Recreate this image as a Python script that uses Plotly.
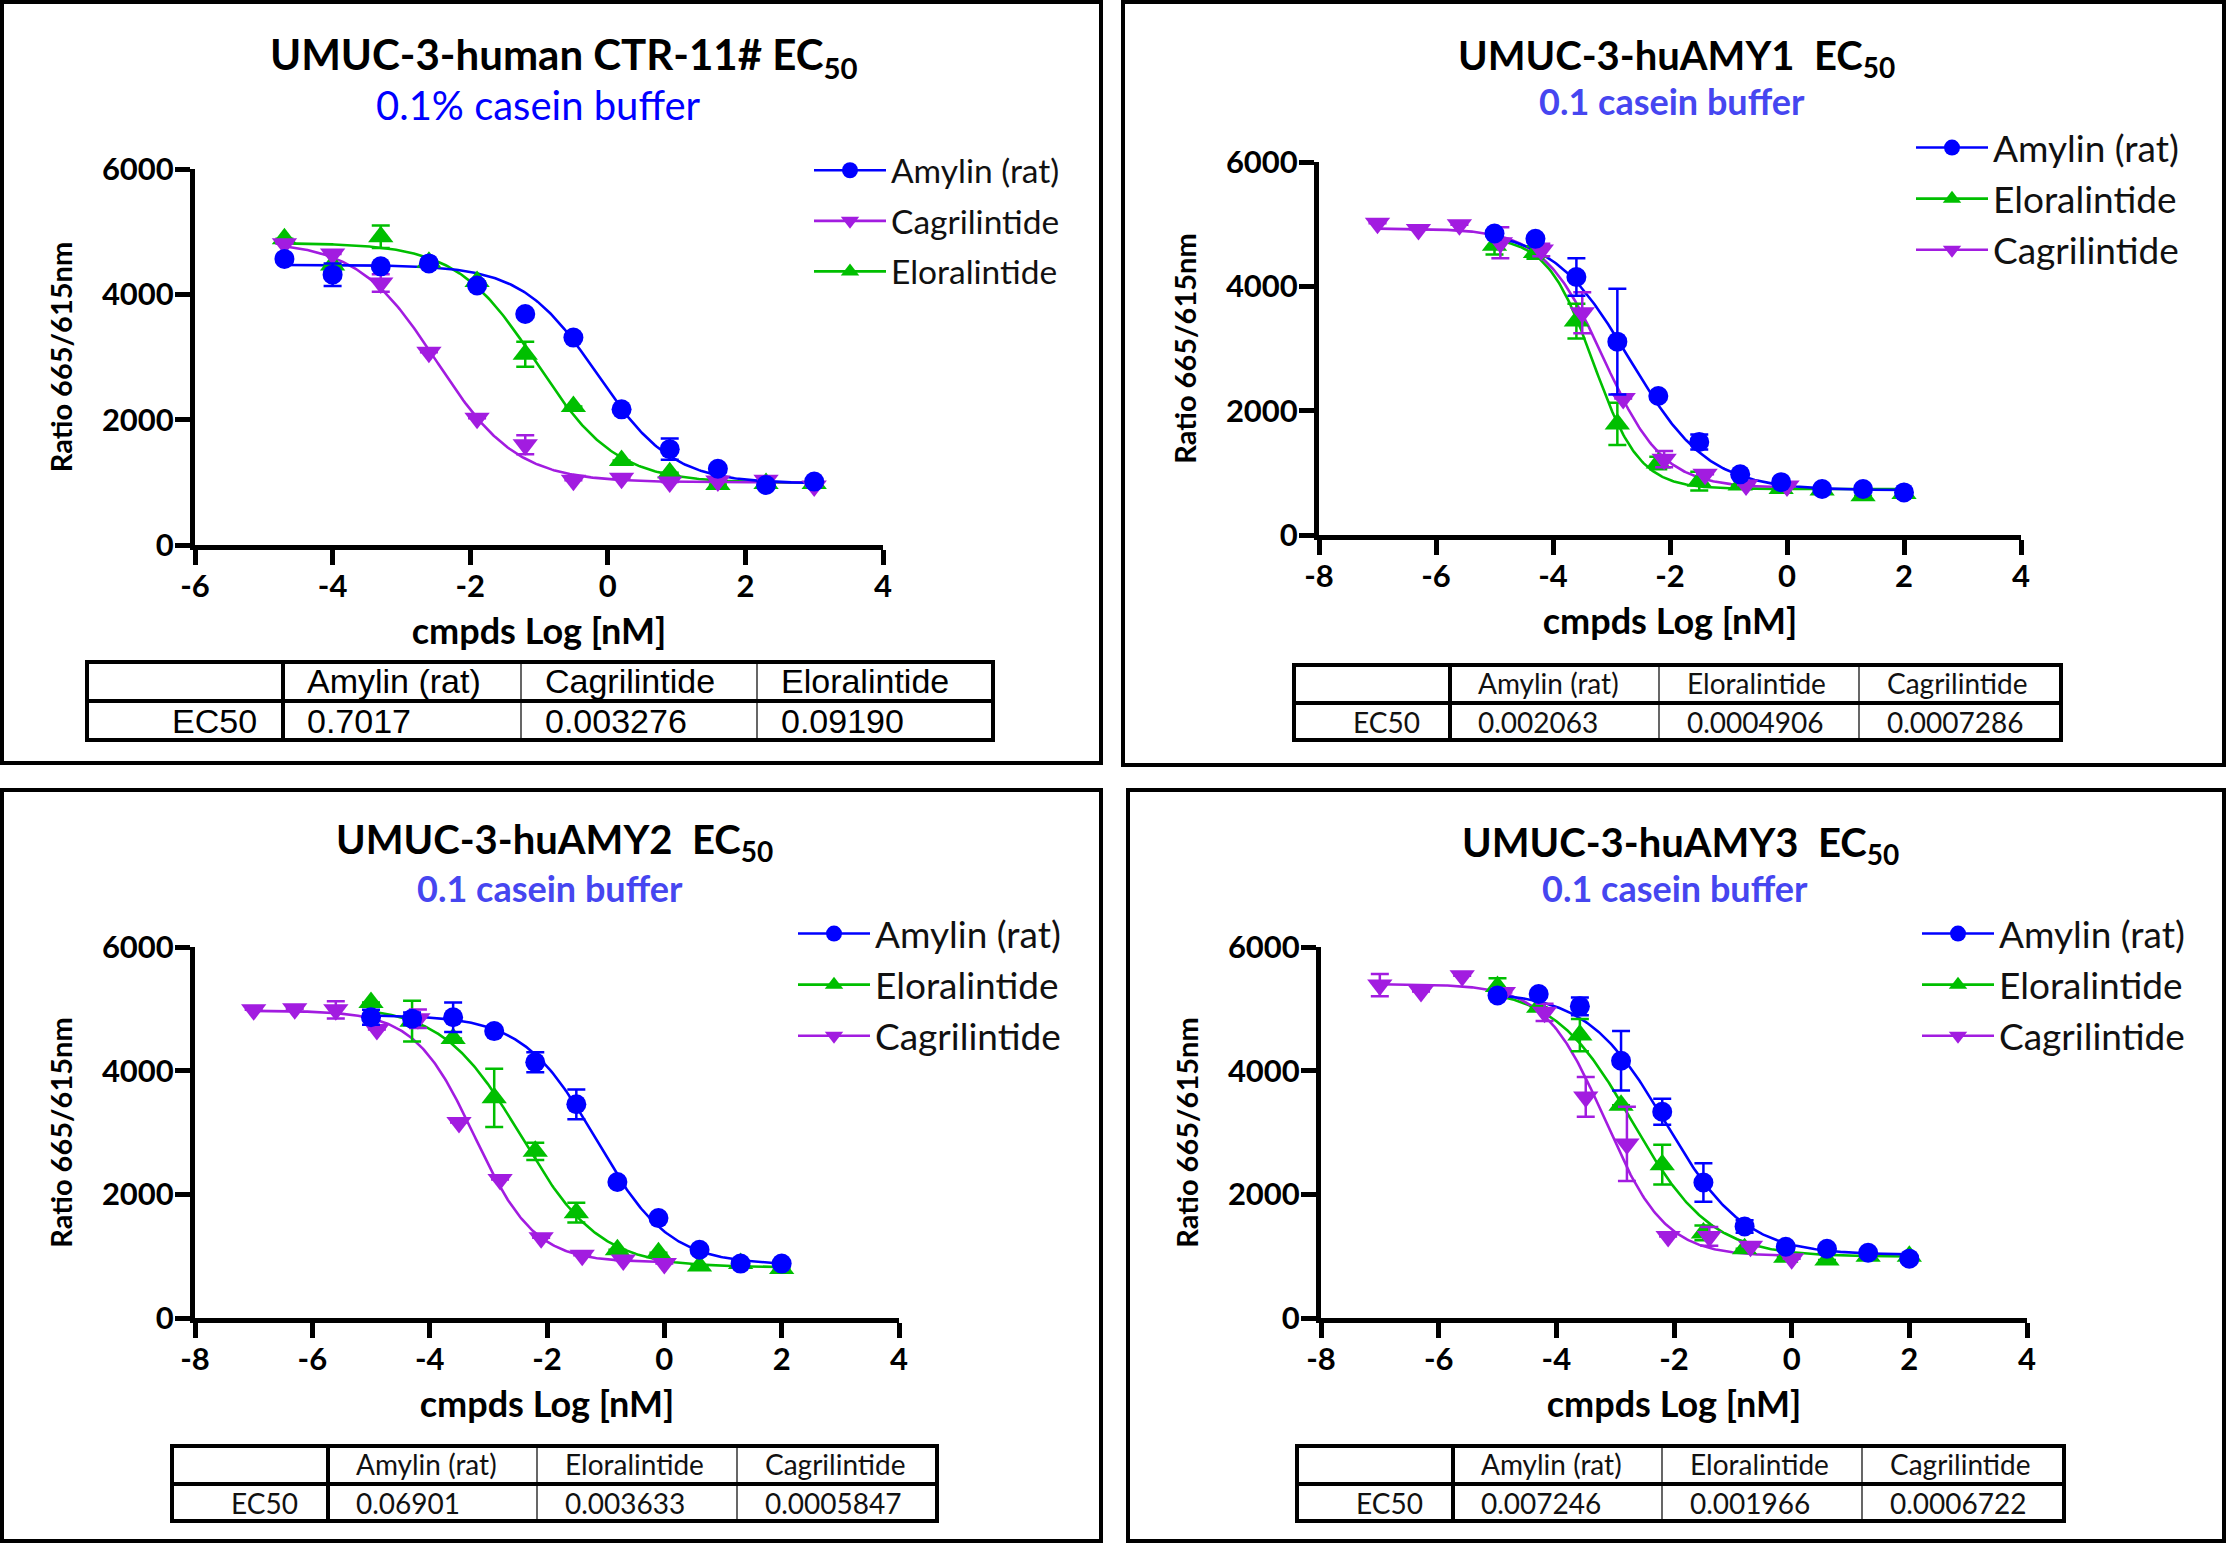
import numpy as np
import plotly.graph_objects as go

W, H = 2227, 1544

# ---------------- data ----------------
# Panel 1: UMUC-3-human CTR-11#
x_ctr = [-4.7, -4.0, -3.3, -2.6, -1.9, -1.2, -0.5, 0.2, 0.9, 1.6, 2.3, 3.0]
ctr_amylin = [4565, 4314, 4447, 4494, 4141, 3686, 3310, 2165, 1529, 1216, 957, 1012]
ctr_amylin_err = [0, 180, 0, 0, 0, 0, 0, 0, 170, 0, 0, 0]
ctr_cagri = [4808, 4643, 4180, 3075, 2024, 1600, 1035, 1067, 1004, 1020, 1035, 941]
ctr_cagri_err = [0, 0, 140, 0, 0, 150, 0, 0, 0, 0, 0, 0]
ctr_elora = [4886, 4470, 4918, 4510, 4204, 3043, 2212, 1349, 1153, 965, 980, 980]
ctr_elora_err = [0, 0, 180, 0, 0, 200, 0, 0, 0, 0, 0, 0]

# shared dose grids for the huAMY panels
x_amy_elo = [-5.0, -4.3, -3.6, -2.9, -2.2, -1.5, -0.8, -0.1, 0.6, 1.3, 2.0]
x_cagri = [-7.0, -6.3, -5.6, -4.9, -4.2, -3.5, -2.8, -2.1, -1.4, -0.7, 0.0]

# Panel 2: UMUC-3-huAMY1
amy1_amylin = [4850, 4764, 4150, 3110, 2236, 1496, 976, 850, 740, 740, 685]
amy1_amylin_err = [0, 0, 300, 850, 0, 120, 0, 0, 0, 0, 0]
amy1_elora = [4661, 4543, 3441, 1787, 1157, 866, 803, 748, 724, 630, 669]
amy1_elora_err = [150, 100, 280, 340, 100, 150, 0, 0, 0, 0, 0]
amy1_cagri = [5016, 4913, 4992, 4700, 4583, 3575, 2197, 1220, 976, 803, 787]
amy1_cagri_err = [0, 0, 0, 250, 100, 330, 0, 130, 0, 0, 0]

# Panel 3: UMUC-3-huAMY2
amy2_amylin = [4864, 4840, 4864, 4640, 4136, 3456, 2200, 1616, 1104, 880, 880]
amy2_amylin_err = [120, 100, 240, 0, 160, 240, 0, 0, 0, 0, 0]
amy2_elora = [5104, 4800, 4520, 3560, 2696, 1704, 1104, 1056, 840, 880, 800]
amy2_elora_err = [0, 330, 0, 470, 140, 160, 0, 0, 0, 0, 0]
amy2_cagri = [4984, 5000, 4984, 4664, 4840, 3160, 2240, 1296, 1016, 936, 880]
amy2_cagri_err = [0, 0, 140, 0, 150, 0, 0, 0, 0, 0, 0]

# Panel 4: UMUC-3-huAMY3
amy3_amylin = [5216, 5240, 5040, 4160, 3336, 2192, 1480, 1152, 1120, 1056, 960]
amy3_amylin_err = [0, 0, 145, 480, 210, 310, 100, 0, 0, 0, 0]
amy3_elora = [5360, 5024, 4576, 3440, 2480, 1376, 1120, 984, 936, 1000, 1000]
amy3_elora_err = [135, 0, 260, 0, 320, 120, 0, 0, 0, 0, 0]
amy3_cagri = [5384, 5280, 5536, 5264, 4944, 3576, 2816, 1320, 1320, 1160, 960]
amy3_cagri_err = [180, 0, 0, 0, 140, 320, 600, 0, 150, 0, 0]

# EC50 values (nM) shown in the tables
ec50_ctr = {"Amylin (rat)": "0.7017", "Cagrilintide": "0.003276", "Eloralintide": "0.09190"}
ec50_amy1 = {"Amylin (rat)": "0.002063", "Eloralintide": "0.0004906", "Cagrilintide": "0.0007286"}
ec50_amy2 = {"Amylin (rat)": "0.06901", "Eloralintide": "0.003633", "Cagrilintide": "0.0005847"}
ec50_amy3 = {"Amylin (rat)": "0.007246", "Eloralintide": "0.001966", "Cagrilintide": "0.0006722"}

# fitted 4PL top / bottom / Hill slope per curve (estimated)
fit_ctr = {"Amylin (rat)": (4470, 980, 0.8), "Cagrilintide": (4850, 1000, 0.75), "Eloralintide": (4820, 990, 0.75)}
fit_amy1 = {"Amylin (rat)": (4920, 720, 0.65), "Eloralintide": (4800, 740, 1.1), "Cagrilintide": (4930, 760, 0.85)}
fit_amy2 = {"Amylin (rat)": (4900, 860, 0.7), "Eloralintide": (5050, 820, 0.65), "Cagrilintide": (4970, 900, 0.85)}
fit_amy3 = {"Amylin (rat)": (5280, 1020, 0.65), "Eloralintide": (5350, 990, 0.65), "Cagrilintide": (5400, 1000, 0.85)}

titles = ["UMUC-3-human CTR-11# EC<sub>50</sub>", "UMUC-3-huAMY1  EC<sub>50</sub>",
          "UMUC-3-huAMY2  EC<sub>50</sub>", "UMUC-3-huAMY3  EC<sub>50</sub>"]
subtitles = ["0.1% casein buffer", "0.1 casein buffer", "0.1 casein buffer", "0.1 casein buffer"]
x_title = "cmpds Log [nM]"
y_title = "Ratio 665/615nm"
x_ticks_ctr = [-6, -4, -2, 0, 2, 4]
x_ticks_amy = [-8, -6, -4, -2, 0, 2, 4]
y_ticks = [0, 2000, 4000, 6000]

# ---------------- styling ----------------
COL = {"Amylin (rat)": "#0000FF", "Cagrilintide": "#A21CE0", "Eloralintide": "#00BF00"}
SYM = {"Amylin (rat)": "circle", "Cagrilintide": "triangle-down", "Eloralintide": "triangle-up"}
MSIZE = {"Amylin (rat)": 20, "Cagrilintide": 22, "Eloralintide": 22}
FONT = "Lato"

def P(x, y):
    return x / W, 1 - y / H

panels = [
    dict(series=[("Eloralintide", x_ctr, ctr_elora, ctr_elora_err),
                 ("Cagrilintide", x_ctr, ctr_cagri, ctr_cagri_err),
                 ("Amylin (rat)", x_ctr, ctr_amylin, ctr_amylin_err)],
         legend_order=["Amylin (rat)", "Cagrilintide", "Eloralintide"],
         ec50=ec50_ctr, fit=fit_ctr, xr=[-6, 4], xt=x_ticks_ctr,
         ax=(195, 883, 169, 545), box=(2, 2, 1101, 763),
         title=(564, 57), tsize=42, sub=(538, 105), sub_style="plain",
         leg=(809, 142), lsize=33.5, lgap=4,
         table=(87, 993, 662, 701, 740, [283, 521, 757]), tstyle="arial"),
    dict(series=[("Eloralintide", x_amy_elo, amy1_elora, amy1_elora_err),
                 ("Cagrilintide", x_cagri, amy1_cagri, amy1_cagri_err),
                 ("Amylin (rat)", x_amy_elo, amy1_amylin, amy1_amylin_err)],
         legend_order=["Amylin (rat)", "Eloralintide", "Cagrilintide"],
         ec50=ec50_amy1, fit=fit_amy1, xr=[-8, 4], xt=x_ticks_amy,
         ax=(1319, 2021, 162, 535), box=(1123, 2, 2224, 765),
         title=(1676, 57), tsize=40, sub=(1672, 101), sub_style="bold",
         leg=(1911, 117), lsize=37, lgap=0,
         table=(1294, 2061, 665, 703, 740, [1450, 1659, 1859]), tstyle="calibri"),
    dict(series=[("Eloralintide", x_amy_elo, amy2_elora, amy2_elora_err),
                 ("Cagrilintide", x_cagri, amy2_cagri, amy2_cagri_err),
                 ("Amylin (rat)", x_amy_elo, amy2_amylin, amy2_amylin_err)],
         legend_order=["Amylin (rat)", "Eloralintide", "Cagrilintide"],
         ec50=ec50_amy2, fit=fit_amy2, xr=[-8, 4], xt=x_ticks_amy,
         ax=(195, 899, 947, 1318), box=(2, 790, 1101, 1541),
         title=(554, 841), tsize=40, sub=(550, 888), sub_style="bold",
         leg=(793, 903), lsize=37, lgap=0,
         table=(172, 937, 1446, 1484, 1521, [328, 537, 737]), tstyle="calibri"),
    dict(series=[("Eloralintide", x_amy_elo, amy3_elora, amy3_elora_err),
                 ("Cagrilintide", x_cagri, amy3_cagri, amy3_cagri_err),
                 ("Amylin (rat)", x_amy_elo, amy3_amylin, amy3_amylin_err)],
         legend_order=["Amylin (rat)", "Eloralintide", "Cagrilintide"],
         ec50=ec50_amy3, fit=fit_amy3, xr=[-8, 4], xt=x_ticks_amy,
         ax=(1321, 2027, 947, 1318), box=(1128, 790, 2224, 1541),
         title=(1680, 845), tsize=40, sub=(1675, 888), sub_style="bold",
         leg=(1917, 903), lsize=37, lgap=0,
         table=(1297, 2064, 1446, 1484, 1521, [1453, 1662, 1862]), tstyle="calibri"),
]

fig = go.Figure()
shapes, annotations = [], []
layout = {}

for i, pn in enumerate(panels, start=1):
    xa = "x" if i == 1 else f"x{i}"
    ya = "y" if i == 1 else f"y{i}"
    legname = "legend" if i == 1 else f"legend{i}"
    x0, x1, y0, y1 = pn["ax"]
    dx0, dy1 = P(x0, y0)
    dx1, dy0 = P(x1, y1)
    tickfont = dict(family=FONT, size=31, color="black", weight="bold")
    layout[("xaxis" if i == 1 else f"xaxis{i}")] = dict(
        domain=[dx0, dx1], range=pn["xr"], anchor=ya, tickvals=pn["xt"],
        ticktext=[str(v) for v in pn["xt"]],
        showline=True, linewidth=5, linecolor="black", ticks="outside", ticklen=15,
        tickwidth=5, tickcolor="black", showgrid=False, zeroline=False,
        tickfont=tickfont, ticklabelstandoff=-5,
        title=dict(text=f"<b>{x_title}</b>", standoff=17,
                   font=dict(family=FONT, size=36, color="black")))
    layout[("yaxis" if i == 1 else f"yaxis{i}")] = dict(
        domain=[dy0, dy1], range=[0, 6000], anchor=xa, tickvals=y_ticks,
        ticktext=[str(v) for v in y_ticks],
        showline=True, linewidth=5, linecolor="black", ticks="outside", ticklen=15,
        tickwidth=5, tickcolor="black", showgrid=False, zeroline=False,
        tickfont=tickfont, ticklabelstandoff=-5,
        title=dict(text=f"<b>{y_title}</b>", standoff=22,
                   font=dict(family=FONT, size=29, color="black")))

    # fitted curves
    for name, xs, ys, errs in pn["series"]:
        top, bot, hill = pn["fit"][name]
        logec = np.log10(float(pn["ec50"][name]))
        xc = np.linspace(min(xs), max(xs), 300)
        yc = bot + (top - bot) / (1 + 10 ** ((xc - logec) * hill))
        fig.add_trace(go.Scatter(x=xc, y=yc, mode="lines", xaxis=xa, yaxis=ya,
                                 line=dict(color=COL[name], width=2.6),
                                 showlegend=False, hoverinfo="skip"))
    # points with error bars
    for name, xs, ys, errs in pn["series"]:
        fig.add_trace(go.Scatter(
            x=xs, y=ys, mode="markers", xaxis=xa, yaxis=ya, showlegend=False,
            marker=dict(symbol=SYM[name], size=MSIZE[name], color=COL[name],
                        line=dict(width=0)),
            error_y=dict(type="data", array=errs, visible=True, color=COL[name],
                         thickness=2.5, width=9)))
    # legend entries
    for name in pn["legend_order"]:
        fig.add_trace(go.Scatter(
            x=[None], y=[None], mode="lines+markers", name=name, xaxis=xa, yaxis=ya,
            legend=legname, legendgroup=f"{i}-{name}",
            line=dict(color=COL[name], width=2.6),
            marker=dict(symbol=SYM[name], size=16, color=COL[name])))
    lx, ly = P(*pn["leg"])
    layout[legname] = dict(x=lx, y=ly, xanchor="left", yanchor="top",
                           bgcolor="rgba(0,0,0,0)", traceorder="grouped",
                           tracegroupgap=pn["lgap"], itemwidth=72,
                           font=dict(family=FONT, size=pn["lsize"], color="#111111"))

    # panel border
    bx0, by0, bx1, by1 = pn["box"]
    shapes.append(dict(type="rect", xref="paper", yref="paper",
                       x0=bx0 / W, x1=bx1 / W, y0=1 - by0 / H, y1=1 - by1 / H,
                       line=dict(color="black", width=4)))

    # titles
    tx, ty = P(*pn["title"])
    annotations.append(dict(x=tx, y=ty, xref="paper", yref="paper", showarrow=False,
                            text=f"<b>{titles[i-1]}</b>", xanchor="center", yanchor="middle",
                            font=dict(family=FONT, size=pn["tsize"], color="black")))
    sx, sy = P(*pn["sub"])
    if pn["sub_style"] == "plain":
        sfont = dict(family=FONT, size=40, color="#0000FF")
        stext = subtitles[i-1]
    else:
        sfont = dict(family=FONT, size=36, color="#4646F0")
        stext = f"<b>{subtitles[i-1]}</b>"
    annotations.append(dict(x=sx, y=sy, xref="paper", yref="paper", showarrow=False,
                            text=stext, xanchor="center", yanchor="middle", font=sfont))

    # EC50 table
    tx0, tx1, tt, tm, tb, cols = pn["table"]
    thick, thin = 4, 1.2
    shapes.append(dict(type="rect", xref="paper", yref="paper",
                       x0=tx0 / W, x1=tx1 / W, y0=1 - tt / H, y1=1 - tb / H,
                       line=dict(color="black", width=thick)))
    shapes.append(dict(type="line", xref="paper", yref="paper",
                       x0=tx0 / W, x1=tx1 / W, y0=1 - tm / H, y1=1 - tm / H,
                       line=dict(color="black", width=thick)))
    for k, cx in enumerate(cols):
        shapes.append(dict(type="line", xref="paper", yref="paper",
                           x0=cx / W, x1=cx / W, y0=1 - tt / H, y1=1 - tb / H,
                           line=dict(color="black", width=thick if k == 0 else thin)))
    if pn["tstyle"] == "arial":
        tfont = dict(family="Liberation Sans", size=34, color="black")
        pad = 22
    else:
        tfont = dict(family=FONT, size=28, color="#111111")
        pad = 26
    edges = cols + [tx1]
    hy = 1 - ((tt + tm) / 2 - 1) / H
    vy = 1 - ((tm + tb) / 2) / H
    for k, name in enumerate(pn["ec50"].keys()):
        annotations.append(dict(x=(edges[k] + pad) / W, y=hy, xref="paper", yref="paper",
                                showarrow=False, text=name, xanchor="left", yanchor="middle",
                                font=tfont))
        annotations.append(dict(x=(edges[k] + pad) / W, y=vy, xref="paper", yref="paper",
                                showarrow=False, text=pn["ec50"][name], xanchor="left",
                                yanchor="middle", font=tfont))
    annotations.append(dict(x=(cols[0] - pad - 2) / W, y=vy, xref="paper", yref="paper",
                            showarrow=False, text="EC50", xanchor="right", yanchor="middle",
                            font=tfont))

layout.update(dict(width=W, height=H, margin=dict(l=0, r=0, t=0, b=0, autoexpand=False),
                   paper_bgcolor="white", plot_bgcolor="white",
                   shapes=shapes, annotations=annotations,
                   font=dict(family=FONT, color="black")))
fig.update_layout(**layout)
fig.write_html("out.html",
               post_script="document.body.style.margin='0';document.body.style.overflow='hidden';")
